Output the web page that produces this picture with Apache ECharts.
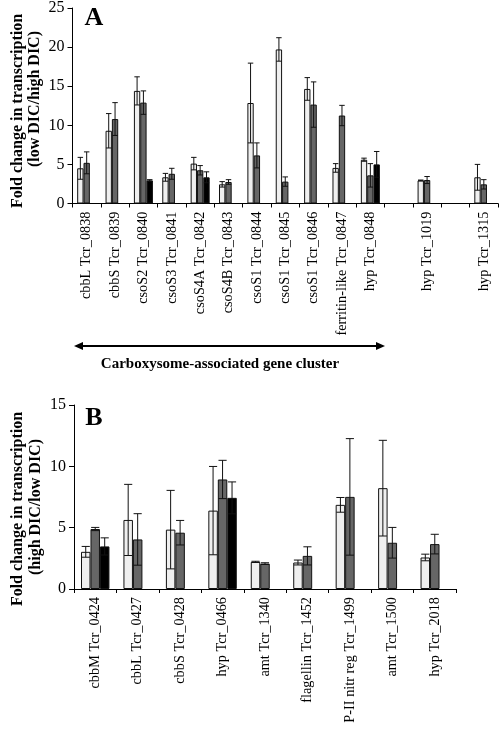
<!DOCTYPE html>
<html><head><meta charset="utf-8">
<script src="https://cdn.jsdelivr.net/npm/echarts@6/dist/echarts.min.js"></script>
<style>html,body{margin:0;padding:0;background:#fff}#c{width:500px;height:730px}</style>
</head><body><div id="c"></div>
<script>
// Panel A
const catsA = ['cbbL Tcr_0838','cbbS Tcr_0839','csoS2 Tcr_0840','csoS3 Tcr_0841','csoS4A Tcr_0842','csoS4B Tcr_0843','csoS1 Tcr_0844','csoS1 Tcr_0845','csoS1 Tcr_0846','ferritin-like Tcr_0847','hyp Tcr_0848',' ','hyp Tcr_1019','  ','hyp Tcr_1315'];
const lightA    = [4.5, 9.3, 14.4, 3.35, 5.1, 2.45, 12.85, 19.7, 14.65, 4.55, 5.6, null, 2.95, null, 3.35];
const lightErrA = [1.4, 2.2, 1.8, 0.5, 0.8, 0.35, 5.1, 1.5, 1.45, 0.55, 0.2, null, 0.05, null, 1.65];
const darkA     = [5.2, 10.8, 12.9, 3.8, 4.25, 2.75, 6.15, 2.8, 12.65, 11.25, 3.6, null, 3.0, null, 2.45];
const darkErrA  = [1.4, 2.1, 1.5, 0.7, 0.6, 0.3, 1.6, 0.6, 2.9, 1.3, 1.5, null, 0.45, null, 0.6];
const blackA    = [null, null, 2.95, null, 3.35, null, null, null, null, null, 5.0, null, null, null, null];
const blackErrA = [null, null, 0.1, null, 0.7, null, null, null, null, null, 1.65, null, null, null, null];
// Panel B
const catsB = ['cbbM Tcr_0424','cbbL Tcr_0427','cbbS Tcr_0428','hyp Tcr_0466','amt Tcr_1340','flagellin Tcr_1452','P-II nitr reg Tcr_1499','amt Tcr_1500','hyp Tcr_2018'];
const lightB    = [3.03, 5.63, 4.84, 6.39, 2.21, 2.16, 6.86, 8.22, 2.57];
const lightErrB = [0.44, 2.9, 3.2, 3.6, 0.05, 0.2, 0.6, 3.9, 0.27];
const darkB     = [4.89, 4.04, 4.59, 8.93, 2.07, 2.7, 7.51, 3.77, 3.66];
const darkErrB  = [0.13, 2.1, 1.0, 1.56, 0.07, 0.74, 4.75, 1.25, 0.8];
const blackB    = [3.47, null, null, 7.43, null, null, null, null, null];
const blackErrB = [0.7, null, null, 1.3, null, null, null, null, null];
const ticksA = [0, 25, 5];
const ticksB = [0, 15, 5];

const FONT = '"Liberation Serif", "Times New Roman", serif';
const chart = echarts.init(document.getElementById('c'), null, {renderer: 'canvas'});

const colors = ['#efefef', '#666666', '#000000'];
function barSeries(name, data, idx, ax) {
  return {
    name: name, type: 'bar', xAxisIndex: ax, yAxisIndex: ax,
    data: data.map(v => v == null ? '-' : v),
    barGap: '0%', barCategoryGap: '33%',
    itemStyle: {color: colors[idx], borderColor: '#111', borderWidth: 1},
    silent: true
  };
}
function errSeries(vals, errs, idx, ax) {
  const d = [];
  vals.forEach((v, i) => { if (v != null && errs[i] != null) d.push([i, v, errs[i]]); });
  return {
    type: 'custom', xAxisIndex: ax, yAxisIndex: ax, z: 5, silent: true,
    encode: {x: 0, y: 1},
    data: d,
    renderItem: function (params, api) {
      const i = api.value(0), v = api.value(1), e = api.value(2);
      const bw = api.size([1, 0])[0];
      const barW = bw * 0.67 / 3;
      const cx = api.coord([i, v])[0] + (idx - 1) * barW;
      const top = api.coord([i, v + e])[1];
      const bot = api.coord([i, Math.max(0, v - e)])[1];
      const h = barW * 0.43;
      const st = {stroke: '#111', lineWidth: 1};
      return {type: 'group', children: [
        {type: 'line', shape: {x1: cx, y1: top, x2: cx, y2: bot}, style: st},
        {type: 'line', shape: {x1: cx - h, y1: top, x2: cx + h, y2: top}, style: st},
        {type: 'line', shape: {x1: cx - h, y1: bot, x2: cx + h, y2: bot}, style: st}
      ]};
    }
  };
}
const axisLine = {lineStyle: {color: '#000', width: 1}};
function catAxis(cats, idx) {
  return {
    type: 'category', gridIndex: idx, data: cats,
    axisLine: axisLine,
    axisTick: {show: true, length: 4, lineStyle: {color: '#000'}},
    axisLabel: {interval: 0, rotate: 90, margin: 8, color: '#000', fontFamily: FONT, fontSize: 14.3}
  };
}
function valAxis(t, idx) {
  return {
    type: 'value', gridIndex: idx, min: t[0], max: t[1], interval: t[2],
    axisLine: {show: true, lineStyle: {color: '#000', width: 1}},
    axisTick: {show: true, length: 5, lineStyle: {color: '#000'}},
    splitLine: {show: false},
    axisLabel: {color: '#000', fontFamily: FONT, fontSize: 16, margin: 8}
  };
}
function vtext(text, x, y, size) {
  return {type: 'text', x: x, y: y, rotation: Math.PI / 2, silent: true,
    style: {text: text, font: 'bold ' + size + 'px ' + FONT, fill: '#000', textAlign: 'center', textVerticalAlign: 'middle'}};
}

const option = {
  animation: false,
  backgroundColor: '#fff',
  grid: [
    {left: 72.5, right: 2, top: 5, height: 198.5},
    {left: 74, right: 44, top: 405, height: 184}
  ],
  xAxis: [catAxis(catsA, 0), catAxis(catsB, 1)],
  yAxis: [valAxis(ticksA, 0), valAxis(ticksB, 1)],
  series: [
    barSeries('Light', lightA, 0, 0), barSeries('Dark', darkA, 1, 0), barSeries('Black', blackA, 2, 0),
    errSeries(lightA, lightErrA, 0, 0), errSeries(darkA, darkErrA, 1, 0), errSeries(blackA, blackErrA, 2, 0),
    barSeries('Light', lightB, 0, 1), barSeries('Dark', darkB, 1, 1), barSeries('Black', blackB, 2, 1),
    errSeries(lightB, lightErrB, 0, 1), errSeries(darkB, darkErrB, 1, 1), errSeries(blackB, blackErrB, 2, 1)
  ],
  graphic: [
    {type: 'text', x: 94, y: 18, silent: true, style: {text: 'A', font: 'bold 26px ' + FONT, fill: '#000', textAlign: 'center', textVerticalAlign: 'middle'}},
    {type: 'text', x: 94, y: 418, silent: true, style: {text: 'B', font: 'bold 26px ' + FONT, fill: '#000', textAlign: 'center', textVerticalAlign: 'middle'}},
    vtext('Fold change in transcription', 18, 111, 16),
    vtext('(low DIC/high DIC)', 35, 99, 16),
    vtext('Fold change in transcription', 18, 509, 16),
    vtext('(high DIC/low DIC)', 36, 507, 16),
    {type: 'line', silent: true, shape: {x1: 80, y1: 346, x2: 379, y2: 346}, style: {stroke: '#000', lineWidth: 2}},
    {type: 'polygon', silent: true, shape: {points: [[74, 346], [83, 342], [83, 350]]}, style: {fill: '#000'}},
    {type: 'polygon', silent: true, shape: {points: [[385, 346], [376, 342], [376, 350]]}, style: {fill: '#000'}},
    {type: 'text', x: 220, y: 364, silent: true, style: {text: 'Carboxysome-associated gene cluster', font: 'bold 15px ' + FONT, fill: '#000', textAlign: 'center', textVerticalAlign: 'middle'}}
  ]
};
chart.setOption(option);
</script>
</body></html>
